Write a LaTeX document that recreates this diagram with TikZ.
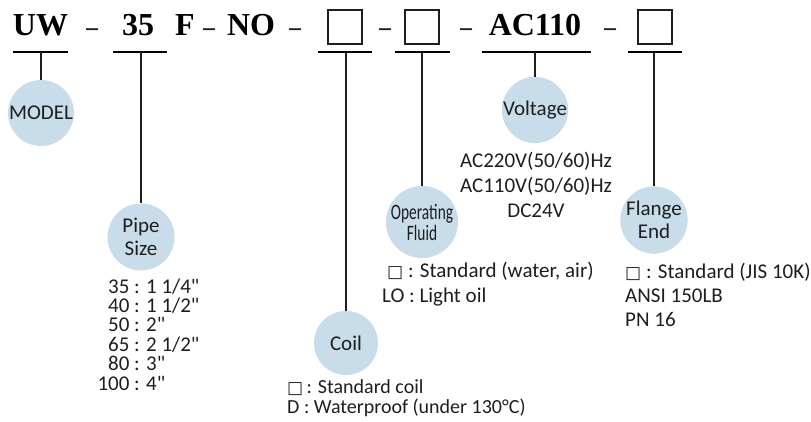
\documentclass[tikz,border=0pt]{standalone}
\usepackage{fontspec}
\usepackage{graphicx}
\setmainfont{Carlito}[Ligatures=TeXOff]
\newfontfamily\hdrfont{Liberation Serif}
\newfontfamily\symfont{DejaVu Sans}
\definecolor{bubblec}{RGB}{200,220,234}
\definecolor{ink}{RGB}{30,30,30}
\newcommand\sqbox{{\symfont\fontsize{17}{17}\selectfont\char"25A1}}
\newcommand\inch{\char34}
\begin{document}
\begin{tikzpicture}[x=1pt,y=-1pt,
  bubble/.style={circle,fill=bubblec,minimum size=66pt,inner sep=0pt,align=center,
    font=\fontsize{21}{23}\selectfont,text=ink},
  code/.style={anchor=base,inner sep=0pt,font=\hdrfont\bfseries\fontsize{32}{32}\selectfont,text=black},
  hyph/.style={anchor=base,inner sep=0pt,font=\hdrfont\fontsize{31}{31}\selectfont,text=ink},
  slot/.style={draw=ink,line width=1.5pt,minimum size=34pt,inner sep=0pt},
  rulebar/.style={line width=1.3pt,draw=black},
  stem/.style={line width=1.2pt,draw=ink},
  info/.style={anchor=base west,inner sep=0pt,font=\fontsize{21}{21}\selectfont,text=ink},
  infoc/.style={anchor=base,inner sep=0pt,font=\fontsize{21}{21}\selectfont,text=ink},
]
\useasboundingbox (0,0) rectangle (811,421);

% ---- header code ----
\node[code] (uw) at (40.5,35) {UW};
\node[hyph] (h1) at (92,35) {\scalebox{1.5}[0.8]{-}};
\node[code] (n35) at (138,35) {35};
\node[code] (f) at (185,35) {F};
\node[hyph] (h2) at (209,35) {\scalebox{1.5}[0.8]{-}};
\node[code] (no) at (251,35) {NO};
\node[hyph] (h3) at (295,35) {\scalebox{1.5}[0.8]{-}};
\node[slot] (b1) at (345,27) {};
\node[hyph] (h4) at (385,35) {\scalebox{1.5}[0.8]{-}};
\node[slot] (b2) at (422,27) {};
\node[hyph] (h5) at (466,35) {\scalebox{1.5}[0.8]{-}};
\node[code] (ac) at (535,35) {AC110};
\node[hyph] (h6) at (610,35) {\scalebox{1.5}[0.8]{-}};
\node[slot] (b3) at (655,27) {};

% ---- underline bars ----
\coordinate (r1a) at (13,52);  \coordinate (r1b) at (68,52);  \coordinate (s1) at (41,52);
\coordinate (r2a) at (113,52); \coordinate (r2b) at (167,52); \coordinate (s2) at (141,52);
\coordinate (r3a) at (318,52); \coordinate (r3b) at (372,52); \coordinate (s3) at (346,52);
\coordinate (r4a) at (395,52); \coordinate (r4b) at (450,52); \coordinate (s4) at (422,52);
\coordinate (r5a) at (482,52); \coordinate (r5b) at (591,52); \coordinate (s5) at (535,52);
\coordinate (r6a) at (628,52); \coordinate (r6b) at (682,52); \coordinate (s6) at (654,52);
\foreach \i in {1,...,6}{\draw[rulebar] (r\i a) -- (r\i b);}

% ---- bubbles ----
\node[bubble] (model) at (41,113) {MODEL};
\node[bubble,minimum size=67pt] (pipe) at (141,237) {Pipe\\Size};
\node[bubble,minimum size=64pt] (coil) at (346,343) {Coil};
\node[bubble,font=\fontsize{22}{21}\selectfont] (fluid) at (422,222)
  {\scalebox{0.7}[1]{Operating}\\\scalebox{0.7}[1]{Fluid}};
\node[bubble,minimum size=64pt] (volt) at (535,110) {Voltage};
\node[bubble,font=\fontsize{21}{23}\selectfont] (flange) at (654,220) {Flange\\End};

% ---- stems ----
\draw[stem] (s1) -- (model.north);
\draw[stem] (s2) -- (pipe.north);
\draw[stem] (s3) -- (coil.north);
\draw[stem] (s4) -- (fluid.north);
\draw[stem] (s5) -- (volt.north);
\draw[stem] (s6) -- (flange.north);

% ---- pipe size list ----
\node[info] (p1) at (134,293)   {\llap{35\ }: 1 1/4\inch};
\node[info] (p2) at (134,312.4) {\llap{40\ }: 1 1/2\inch};
\node[info] (p3) at (134,331.8) {\llap{50\ }: 2\inch};
\node[info] (p4) at (134,351.2) {\llap{65\ }: 2 1/2\inch};
\node[info] (p5) at (134,370.6) {\llap{80\ }: 3\inch};
\node[info] (p6) at (134,390)   {\llap{100\ }: 4\inch};

% ---- coil ----
\node[info,font=\fontsize{20}{20}\selectfont] (c1) at (287,393) {\sqbox\,: Standard coil};
\node[info,font=\fontsize{20}{20}\selectfont] (c2) at (287,413) {D : Waterproof (under 130°C)};

% ---- operating fluid ----
\node[info] (o1) at (387,277) {\sqbox\ : Standard (water, air)};
\node[info] (o2) at (382,302) {LO : Light oil};

% ---- voltage ----
\node[infoc] (v1) at (536,167) {AC220V(50/60)Hz};
\node[infoc] (v2) at (536,192) {AC110V(50/60)Hz};
\node[infoc] (v3) at (536,217) {DC24V};

% ---- flange ----
\node[info] (e1) at (625,278) {\sqbox\ : Standard (JIS 10K)};
\node[info] (e2) at (625,302) {ANSI 150LB};
\node[info] (e3) at (625,326) {PN 16};
\end{tikzpicture}
\end{document}
